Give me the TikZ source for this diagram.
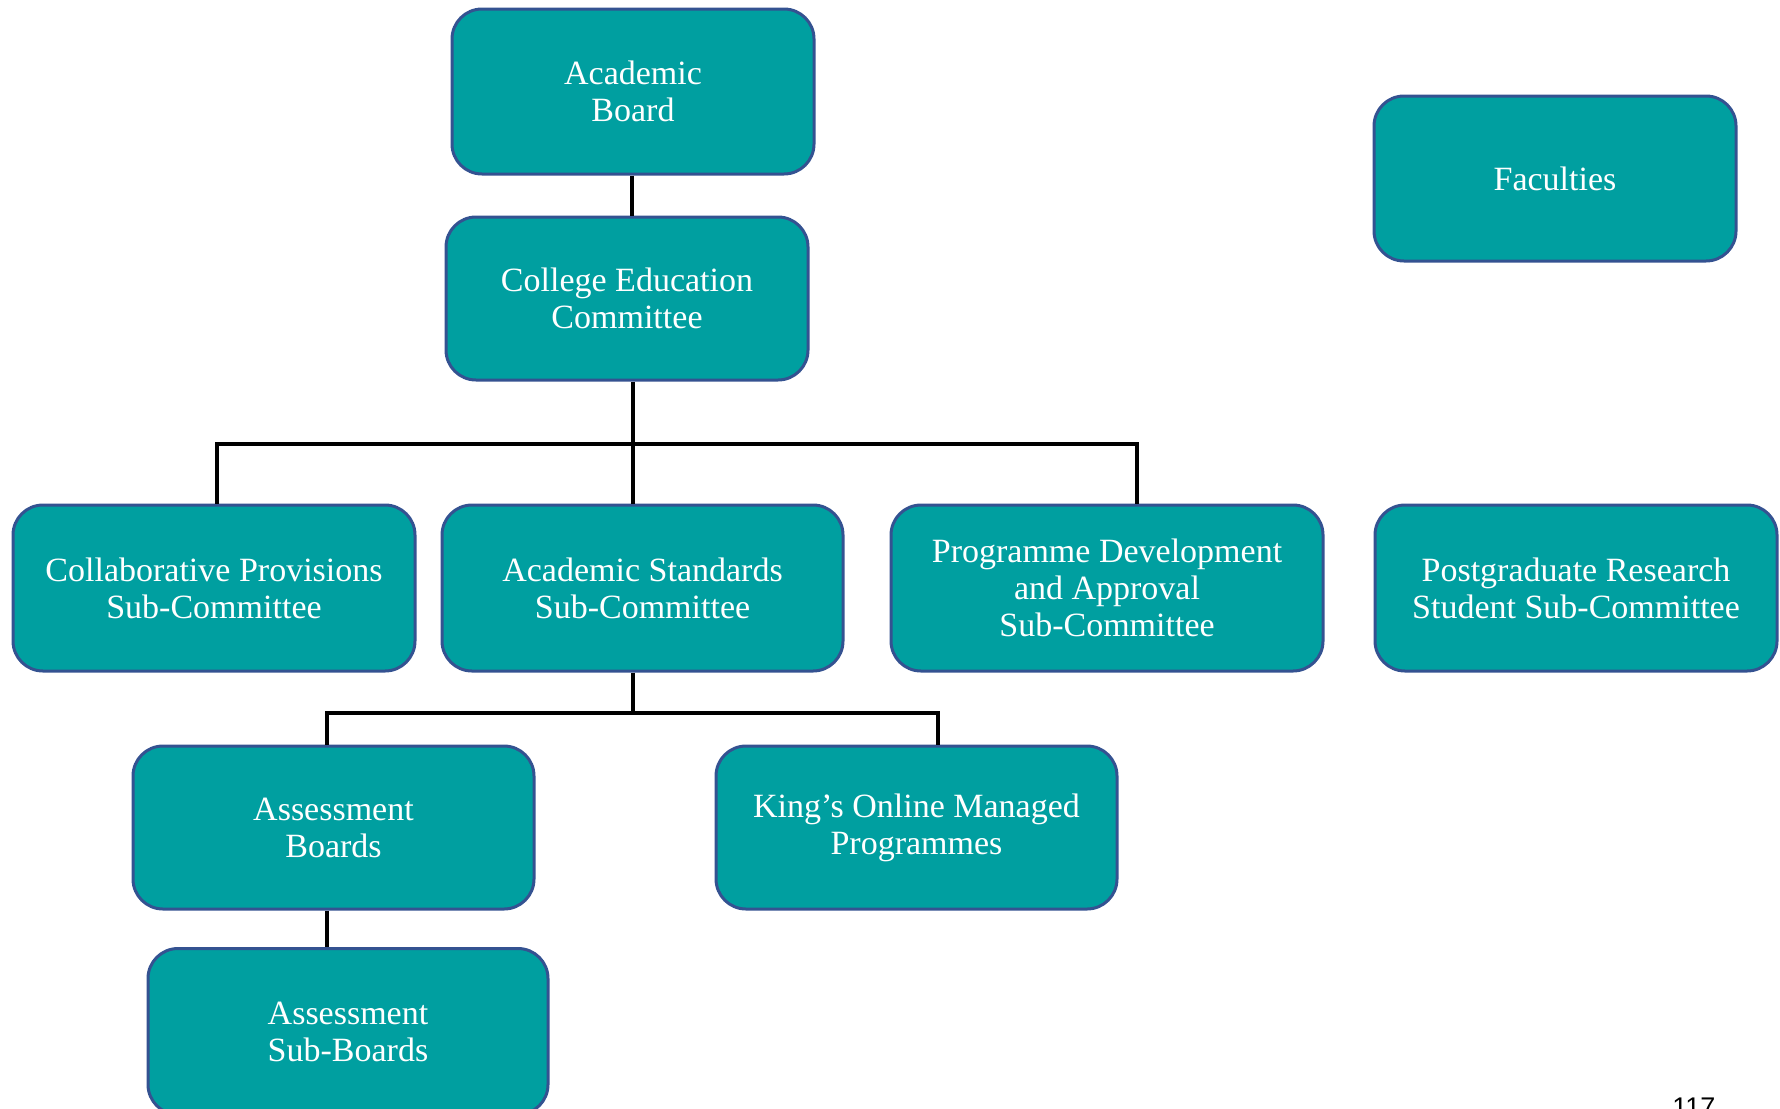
\documentclass[tikz,border=0pt]{standalone}
\usepackage{fontspec}
\setmainfont{Liberation Serif}
\newfontfamily\pagenumfont{Liberation Sans}
\definecolor{boxfill}{RGB}{0,159,160}
\definecolor{boxline}{RGB}{52,82,145}
\begin{document}
\begin{tikzpicture}[
  orgbox/.style={draw=boxline, line width=1.5pt, fill=boxfill, rounded corners=15pt,
    text=white, align=center, inner sep=2pt,
    font=\fontsize{17}{18.5}\selectfont},
  link/.style={draw=black, line width=2pt}
]
\useasboundingbox (0,0) rectangle (890pt,-554pt);
\node[orgbox, minimum width=181pt, minimum height=82.5pt] (ab) at (316.5pt,-45.75pt) {Academic\\Board};
\node[orgbox, minimum width=181pt, minimum height=81.5pt] (cec) at (313.5pt,-149.25pt) {College Education\\Committee};
\node[orgbox, minimum width=181pt, minimum height=82.5pt] (fac) at (777.5pt,-89.25pt) {Faculties};
\node[orgbox, minimum width=201pt, minimum height=83pt] (cps) at (107pt,-294pt) {Collaborative Provisions\\Sub-Committee};
\node[orgbox, minimum width=200.5pt, minimum height=83pt] (asc) at (321.25pt,-294pt) {Academic Standards\\Sub-Committee};
\node[orgbox, minimum width=216pt, minimum height=83pt] (pda) at (553.5pt,-294pt) {Programme Development\\and Approval\\Sub-Committee};
\node[orgbox, minimum width=201pt, minimum height=83pt] (prs) at (788pt,-294pt) {Postgraduate Research\\Student Sub-Committee};
\node[orgbox, minimum width=200.5pt, minimum height=81.5pt] (asb) at (166.75pt,-413.75pt) {Assessment\\Boards};
\node[orgbox, minimum width=200.5pt, minimum height=81.5pt] (komp) at (458.25pt,-413.75pt) {King’s Online Managed\\Programmes};
\node[orgbox, minimum width=200pt, minimum height=83pt] (sub) at (174pt,-515.75pt) {Assessment\\Sub-Boards};
\node[anchor=base west, inner sep=0pt, font=\pagenumfont\fontsize{13.5}{14}\selectfont] (pg) at (836pt,-558.2pt) {117};
% connectors
\coordinate (abx) at (316pt,0);
\coordinate (busA) at (316.5pt,-222pt);
\coordinate (busAl) at (108.5pt,-222pt);
\coordinate (busAr) at (568.5pt,-222pt);
\coordinate (busB) at (316.5pt,-356.5pt);
\coordinate (busBl) at (163.5pt,-356.5pt);
\coordinate (busBr) at (469pt,-356.5pt);
\draw[link] (ab.south -| abx) -- (cec.north -| abx);
\draw[link] (cec.south -| busA) -- (asc.north -| busA);
\draw[link] (cps.north -| busAl) -- (busAl) -- (busAr) -- (pda.north -| busAr);
\draw[link] (asc.south -| busB) -- (busB);
\draw[link] (asb.north -| busBl) -- (busBl) -- (busBr) -- (komp.north -| busBr);
\draw[link] (asb.south -| busBl) -- (sub.north -| busBl);
\end{tikzpicture}
\end{document}
